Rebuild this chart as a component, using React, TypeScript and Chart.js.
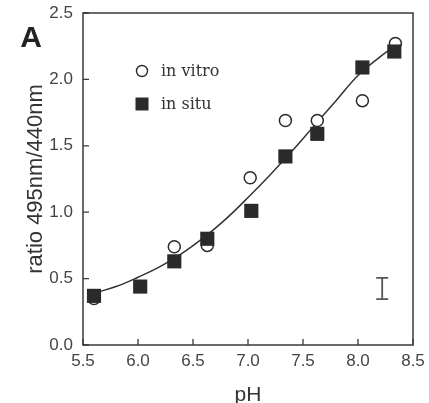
import React, { useEffect, useRef } from "react";
import { Chart, registerables } from "chart.js";

Chart.register(...registerables);

// ---- data ----
const xTicks = [5.5, 6.0, 6.5, 7.0, 7.5, 8.0, 8.5];
const yTicks = [0.0, 0.5, 1.0, 1.5, 2.0, 2.5];

const inVitroX = [5.6, 6.33, 6.63, 7.02, 7.34, 7.63, 8.04, 8.34];
const inVitroY = [0.35, 0.74, 0.75, 1.26, 1.69, 1.69, 1.84, 2.27];

const inSituX = [5.6, 6.02, 6.33, 6.63, 7.03, 7.34, 7.63, 8.04, 8.33];
const inSituY = [0.37, 0.44, 0.63, 0.8, 1.01, 1.42, 1.59, 2.09, 2.21];

const fitX = [5.6, 5.8, 6.0, 6.2, 6.4, 6.6, 6.8, 7.0, 7.2, 7.4, 7.6, 7.8, 8.0, 8.2, 8.33];
const fitY = [0.39, 0.44, 0.51, 0.59, 0.69, 0.81, 0.95, 1.11, 1.28, 1.46, 1.65, 1.84, 2.03, 2.17, 2.25];

const errBarX = [8.22];
const errBarLow = [0.345];
const errBarHigh = [0.505];

const seriesLabels = ["in vitro", "in situ"];
const panelLabel = "A";

const INK = "#2a2a2a";
const AXIS = "#3a3a3a";
const SANS = "'Liberation Sans', Arial, sans-serif";
const SERIF = "'DejaVu Serif', 'Liberation Serif', serif";

const zip = (xs: number[], ys: number[]) => xs.map((x, i) => ({ x, y: ys[i] }));

const decorPlugin = {
  id: "decor",
  afterDatasetsDraw(chart: any) {
    const { ctx, chartArea: a, scales } = chart;
    const xs = scales.x;
    const ys = scales.y;
    ctx.save();
    // frame
    ctx.strokeStyle = AXIS;
    ctx.lineWidth = 1.5;
    ctx.strokeRect(a.left, a.top, a.right - a.left, a.bottom - a.top);
    // inward ticks
    ctx.lineWidth = 1.3;
    ctx.beginPath();
    xTicks.forEach((v) => {
      const px = xs.getPixelForValue(v);
      ctx.moveTo(px, a.bottom);
      ctx.lineTo(px, a.bottom - 6);
    });
    yTicks.forEach((v) => {
      const py = ys.getPixelForValue(v);
      ctx.moveTo(a.left, py);
      ctx.lineTo(a.left + 6, py);
    });
    ctx.stroke();
    // error bar
    ctx.strokeStyle = "#555";
    ctx.lineWidth = 1.8;
    errBarX.forEach((ex, i) => {
      const px = xs.getPixelForValue(ex);
      const p1 = ys.getPixelForValue(errBarHigh[i]);
      const p2 = ys.getPixelForValue(errBarLow[i]);
      ctx.beginPath();
      ctx.moveTo(px, p1);
      ctx.lineTo(px, p2);
      ctx.moveTo(px - 6, p1);
      ctx.lineTo(px + 6, p1);
      ctx.moveTo(px - 6, p2);
      ctx.lineTo(px + 6, p2);
      ctx.stroke();
    });
    // legend
    const lx = a.left + 59;
    const ly1 = a.top + 58;
    const ly2 = a.top + 91;
    ctx.fillStyle = "#fff";
    ctx.strokeStyle = INK;
    ctx.lineWidth = 1.4;
    ctx.beginPath();
    ctx.arc(lx, ly1, 5.5, 0, Math.PI * 2);
    ctx.fill();
    ctx.stroke();
    ctx.fillStyle = INK;
    ctx.fillRect(lx - 6.5, ly2 - 6.5, 13, 13);
    ctx.fillStyle = "#333";
    ctx.font = `16px ${SERIF}`;
    ctx.textAlign = "left";
    ctx.textBaseline = "alphabetic";
    ctx.fillText(seriesLabels[0], lx + 19, ly1 + 5);
    ctx.fillText(seriesLabels[1], lx + 19, ly2 + 5);
    // panel letter
    ctx.fillStyle = "#222";
    ctx.font = `bold 30px ${SANS}`;
    ctx.textAlign = "center";
    ctx.fillText(panelLabel, 31, 47);
    ctx.restore();
  },
};

export default function App() {
  const ref = useRef<HTMLCanvasElement | null>(null);
  useEffect(() => {
    if (!ref.current) return;
    const chart = new Chart(ref.current, {
      type: "scatter",
      data: {
        datasets: [
          {
            label: seriesLabels[1],
            data: zip(inSituX, inSituY),
            pointStyle: "rect",
            pointRadius: 10,
            pointBackgroundColor: INK,
            pointBorderColor: INK,
            pointBorderWidth: 0,
            order: 0,
          },
          {
            label: seriesLabels[0],
            data: zip(inVitroX, inVitroY),
            pointStyle: "circle",
            pointRadius: 6,
            pointBackgroundColor: "#fff",
            pointBorderColor: INK,
            pointBorderWidth: 1.5,
            order: 1,
          },
          {
            label: "fit",
            data: zip(fitX, fitY),
            showLine: true,
            pointRadius: 0,
            borderColor: "#333",
            borderWidth: 1.5,
            tension: 0.4,
            order: 2,
          } as any,
        ],
      },
      options: {
        animation: false,
        responsive: false,
        events: [],
        layout: { padding: { left: 0, right: 16, top: 13, bottom: 0 } },
        plugins: { legend: { display: false }, tooltip: { enabled: false } },
        scales: {
          x: {
            type: "linear",
            min: 5.5,
            max: 8.5,
            afterFit: (s: any) => {
              s.height = 58;
            },
            afterBuildTicks: (s: any) => {
              s.ticks = xTicks.map((v) => ({ value: v }));
            },
            grid: { display: false, drawTicks: false },
            border: { display: false },
            ticks: {
              padding: 3,
              color: "#444",
              font: { family: SANS, size: 17, lineHeight: 1.6 },
              callback: (v: any) => Number(v).toFixed(1),
            },
            title: {
              display: true,
              text: "pH",
              color: "#333",
              font: { family: SANS, size: 21, lineHeight: 1 },
              padding: { top: 0, bottom: -3 },
            },
          },
          y: {
            type: "linear",
            min: 0,
            max: 2.5,
            afterFit: (s: any) => {
              s.width = 83;
            },
            afterBuildTicks: (s: any) => {
              s.ticks = yTicks.map((v) => ({ value: v }));
            },
            grid: { display: false, drawTicks: false },
            border: { display: false },
            ticks: {
              padding: 10,
              color: "#444",
              font: { family: SANS, size: 17, lineHeight: 0.2 },
              callback: (v: any) => Number(v).toFixed(1),
            },
            title: {
              display: true,
              text: "ratio 495nm/440nm",
              color: "#333",
              font: { family: SANS, size: 22, lineHeight: 1 },
              padding: { top: 25, bottom: 0 },
            },
          },
        },
      },
      plugins: [decorPlugin],
    });
    return () => chart.destroy();
  }, []);
  return (
    <div style={{ position: "fixed", left: 0, top: 0, width: 429, height: 403, background: "#fff" }}>
      <canvas ref={ref} width={429} height={403} style={{ display: "block" }} />
    </div>
  );
}
